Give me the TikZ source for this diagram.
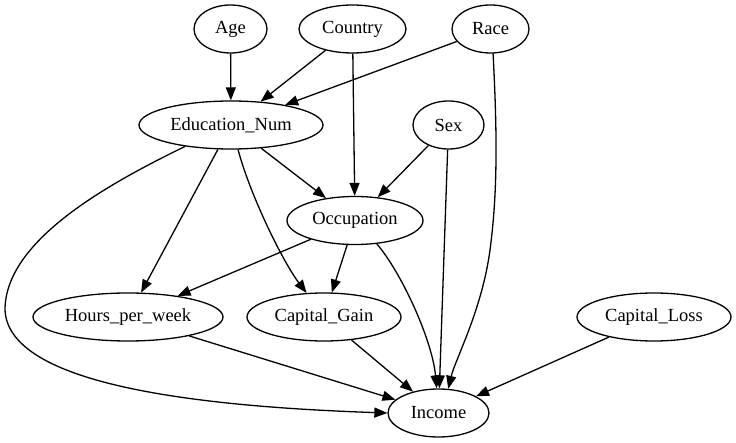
\documentclass[tikz,border=0pt]{standalone}
\usepackage{fontspec}
\setmainfont{Liberation Serif}
\usetikzlibrary{shapes.geometric,arrows.meta}

\begin{document}
\begin{tikzpicture}[x=1pt, y=-1pt, line width=1.3pt]
  \useasboundingbox (0, 0) rectangle (736, 443);

  \tikzstyle{var}=[ellipse, draw, minimum height=48pt, inner sep=0pt, font=\fontsize{18.5}{22}\selectfont]
  \tikzstyle{dep}=[draw, -{Triangle[length=13pt, width=10pt]}]

  % Knoten
  \node[var, minimum width=73pt] (age) at (230.5, 29) {Age};
  \node[var, minimum width=107pt] (country) at (352.5, 29) {Country};
  \node[var, minimum width=77pt] (race) at (490.5, 29) {Race};
  \node[var, minimum width=184pt] (edu) at (231, 125) {Education\_Num};
  \node[var, minimum width=71pt] (sex) at (448.5, 125) {Sex};
  \node[var, minimum width=136pt] (occ) at (355, 220.5) {Occupation};
  \node[var, minimum width=190pt] (hours) at (128, 317) {Hours\_per\_week};
  \node[var, minimum width=154pt] (gain) at (324, 317) {Capital\_Gain};
  \node[var, minimum width=154pt] (loss) at (654, 317) {Capital\_Loss};
  \node[var, minimum width=101pt] (income) at (438.5, 413) {Income};

  % Kanten
  \path (age) edge[dep] (edu);
  \path (country) edge[dep] (edu);
  \path (race) edge[dep] (edu);
  \path (country) edge[dep] (occ);
  \path (edu) edge[dep] (occ);
  \path (sex) edge[dep] (occ);
  \path (edu) edge[dep] (hours);
  \path (occ) edge[dep] (hours);
  \path (occ) edge[dep] (gain);
  \path (sex) edge[dep] (income);
  \path (hours) edge[dep] (income);
  \path (gain) edge[dep] (income);
  \path (loss) edge[dep] (income);

  % gekruemmte Kanten
  \draw[dep] (race.-84) .. controls (497, 130) and (498, 190) .. (490, 250)
    .. controls (482, 310) and (455, 360) .. (income.68);
  \draw[dep] (edu.-74) .. controls (250, 195) and (283, 262) .. (gain.126);
  \draw[dep] (occ.-47) .. controls (401, 272) and (432, 339) .. (income.94);
  \draw[dep] (edu.205) .. controls (110, 183) and (5, 240) .. (5, 310)
    .. controls (8, 375) and (150, 405) .. (income.180);
\end{tikzpicture}
\end{document}
